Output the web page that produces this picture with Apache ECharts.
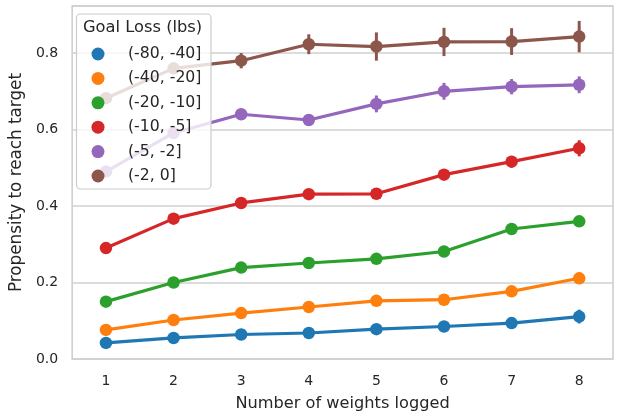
<!DOCTYPE html>
<html>
<head>
<meta charset="utf-8">
<script src="https://cdn.jsdelivr.net/npm/echarts@6/dist/echarts.min.js"></script>
<style>html,body{margin:0;padding:0;background:#fff}#c{width:620px;height:417px}</style>
</head>
<body>
<div id="c"></div>
<script>
const categories = ['1','2','3','4','5','6','7','8'];
const seriesNames = ['(-80, -40]','(-40, -20]','(-20, -10]','(-10, -5]','(-5, -2]','(-2, 0]'];
const yTicks = [0.0, 0.2, 0.4, 0.6, 0.8];
const blue   = [0.042,0.055,0.064,0.068,0.078,0.085,0.094,0.111];
const orange = [0.076,0.102,0.120,0.136,0.152,0.155,0.177,0.211];
const green  = [0.150,0.200,0.239,0.251,0.262,0.281,0.340,0.360];
const red    = [0.290,0.367,0.408,0.431,0.432,0.482,0.516,0.551];
const purple = [0.490,0.591,0.640,0.625,0.667,0.700,0.712,0.717];
const brown  = [0.682,0.760,0.780,0.823,0.817,0.829,0.830,0.843];
const blueErr   = [0.004,0.005,0.005,0.006,0.007,0.008,0.010,0.018];
const orangeErr = [0.005,0.006,0.006,0.007,0.008,0.009,0.011,0.015];
const greenErr  = [0.006,0.007,0.008,0.009,0.010,0.011,0.012,0.013];
const redErr    = [0.007,0.008,0.009,0.010,0.011,0.012,0.015,0.021];
const purpleErr = [0.008,0.010,0.011,0.012,0.022,0.022,0.020,0.022];
const brownErr  = [0.009,0.012,0.020,0.026,0.037,0.037,0.035,0.041];

const values = [blue, orange, green, red, purple, brown];
const errors = [blueErr, orangeErr, greenErr, redErr, purpleErr, brownErr];
const colors = ['#1f77b4','#ff7f0e','#2ca02c','#d62728','#9467bd','#8c564b'];
const FONT = 'DejaVu Sans';
const TXT = '#262626';

const series = [];
values.forEach((vals, k) => {
  series.push({
    name: 'err' + k,
    type: 'custom',
    z: 2 + k * 0.01,
    silent: true,
    data: vals.map((v, i) => [i, v - errors[k][i], v + errors[k][i]]),
    encode: { x: 0, y: [1, 2] },
    renderItem: function (params, api) {
      const x = api.value(0);
      const lo = api.coord([x, api.value(1)]);
      const hi = api.coord([x, api.value(2)]);
      return {
        type: 'line',
        shape: { x1: lo[0], y1: lo[1], x2: hi[0], y2: hi[1] },
        style: { stroke: colors[k], lineWidth: 3 }
      };
    }
  });
  series.push({
    name: seriesNames[k],
    type: 'line',
    z: 2 + k * 0.01,
    data: vals,
    symbol: 'circle',
    symbolSize: 12.5,
    showSymbol: true,
    lineStyle: { color: colors[k], width: 3.2 },
    itemStyle: { color: colors[k] },
    animation: false
  });
});

const chart = echarts.init(document.getElementById('c'));
chart.setOption({
  animation: false,
  backgroundColor: '#ffffff',
  textStyle: { fontFamily: FONT },
  grid: { left: 68, right: 7, top: 6, bottom: 58, show: true, borderColor: '#cccccc', borderWidth: 1.5, containLabel: false },
  xAxis: {
    type: 'category',
    data: categories,
    boundaryGap: true,
    axisLine: { show: false },
    axisTick: { show: false },
    splitLine: { show: false },
    axisLabel: { color: TXT, fontSize: 14, margin: 15, fontFamily: FONT },
    name: 'Number of weights logged',
    nameLocation: 'middle',
    nameGap: 37,
    nameTextStyle: { color: TXT, fontSize: 16.2, fontFamily: FONT }
  },
  yAxis: {
    type: 'value',
    min: 0,
    max: 0.923,
    interval: 0.2,
    axisLine: { show: false },
    axisTick: { show: false },
    splitLine: { show: true, lineStyle: { color: '#d0d0d0', width: 1.5 } },
    axisLabel: {
      color: TXT, fontSize: 14, margin: 14, fontFamily: FONT,
      formatter: function (v) {
        const t = yTicks.find(y => Math.abs(y - v) < 1e-6);
        return t === undefined ? '' : t.toFixed(1);
      }
    },
    name: 'Propensity to reach target',
    nameLocation: 'middle',
    nameGap: 44,
    nameTextStyle: { color: TXT, fontSize: 16.8, fontFamily: FONT }
  },
  legend: {
    data: seriesNames.map((n, k) => ({ name: n, icon: 'circle', itemStyle: { color: colors[k] } })),
    orient: 'vertical',
    left: 91.5,
    top: 46,
    itemWidth: 13,
    itemHeight: 13,
    itemGap: 8.4,
    selectedMode: false,
    z: 20,
    padding: 0,
    textStyle: { color: TXT, fontSize: 15.7, fontFamily: FONT, lineHeight: 12, padding: [0, 0, 0, 18.5] }
  },
  graphic: [
    {
      type: 'rect', z: 15, silent: true,
      shape: { x: 76.5, y: 14, width: 134.5, height: 175, r: 4 },
      style: { fill: 'rgba(255,255,255,0.8)', stroke: '#cccccc', lineWidth: 1.2 }
    },
    {
      type: 'text', z: 20, silent: true,
      left: 83, top: 20,
      style: { text: 'Goal Loss (lbs)', fill: TXT, font: '16.3px "DejaVu Sans"' }
    }
  ],
  series: series
});
</script>
</body>
</html>
